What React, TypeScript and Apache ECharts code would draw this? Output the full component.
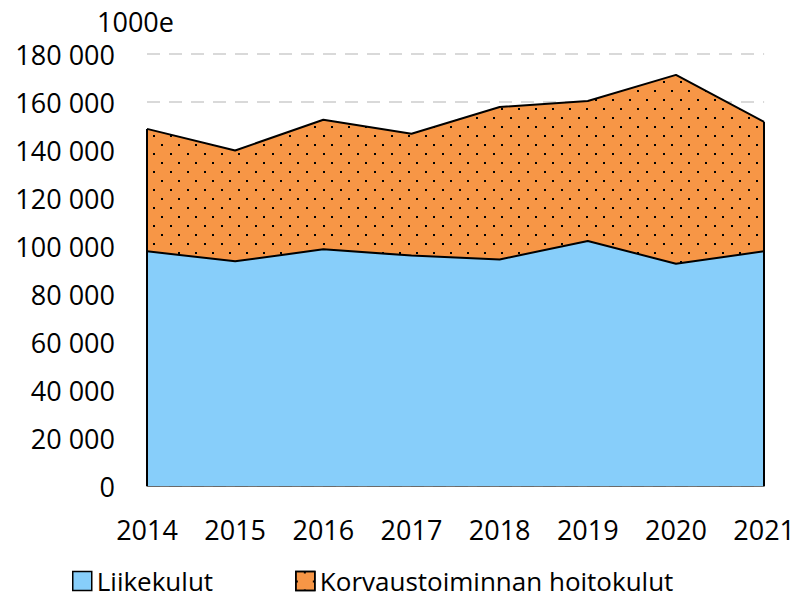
import React, { useEffect, useRef } from "react";
import * as echarts from "echarts";

const years = ["2014", "2015", "2016", "2017", "2018", "2019", "2020", "2021"];
const liikekulut = [97800, 93600, 98600, 96000, 94400, 102100, 92600, 97800];
const hoitokulut = [51000, 46200, 54000, 50800, 63500, 58300, 78700, 53900];
const totals = liikekulut.map((v, i) => v + hoitokulut[i]);
const yTicks = { min: 0, max: 180000, interval: 20000 };

const FONT = "'Open Sans', 'Noto Sans', sans-serif";
const BLUE = "#87CEFA";
const ORANGE = "#F79646";

const fmt = (v: number) => String(v).replace(/\B(?=(\d{3})+(?!\d))/g, " ");

export default function App() {
  const ref = useRef<HTMLDivElement>(null);
  useEffect(() => {
    if (!ref.current) return;
    const chart = echarts.init(ref.current, null, { renderer: "svg" });
    const last = years.length - 1;
    chart.setOption({
      animation: false,
      textStyle: { fontFamily: FONT },
      title: {
        text: "1000e",
        left: 97,
        top: 8,
        padding: 0,
        textStyle: { fontSize: 27, fontWeight: "normal", color: "#000", fontFamily: FONT },
      },
      grid: { left: 147, right: 32, top: 54, bottom: 115, containLabel: false },
      legend: {
        left: 72,
        top: 567,
        padding: 0,
        itemWidth: 19,
        itemHeight: 19,
        itemGap: 82,
        icon: "rect",
        textStyle: { fontSize: 26, color: "#000", fontFamily: FONT, lineHeight: 28 },
        data: [
          { name: "Liikekulut", itemStyle: { color: BLUE, borderColor: "#000", borderWidth: 1.5 } },
          {
            name: "Korvaustoiminnan hoitokulut",
            itemStyle: { color: ORANGE, borderColor: "#000", borderWidth: 1.5 },
          },
        ],
      },
      xAxis: {
        type: "category",
        data: years,
        boundaryGap: false,
        axisLine: { show: true, lineStyle: { color: "#444", width: 1.5 } },
        axisTick: { show: false },
        axisLabel: { fontSize: 27, color: "#000", margin: 30, fontFamily: FONT },
        splitLine: { show: false },
      },
      yAxis: {
        type: "value",
        min: yTicks.min,
        max: yTicks.max,
        interval: yTicks.interval,
        axisLine: { show: false },
        axisTick: { show: false },
        axisLabel: { fontSize: 27, color: "#000", margin: 32, fontFamily: FONT, formatter: fmt },
        splitLine: { show: true, lineStyle: { color: "#d9d9d9", width: 2, type: [13, 9] } },
      },
      series: [
        {
          name: "Liikekulut",
          type: "line",
          stack: "total",
          data: liikekulut,
          showSymbol: false,
          symbol: "none",
          lineStyle: { color: "#000", width: 2 },
          itemStyle: { color: BLUE },
          areaStyle: { color: BLUE, opacity: 1 },
          z: 3,
        },
        {
          name: "Korvaustoiminnan hoitokulut",
          type: "line",
          stack: "total",
          data: hoitokulut,
          showSymbol: false,
          symbol: "none",
          lineStyle: { color: "#000", width: 2 },
          itemStyle: {
            color: ORANGE,
            decal: {
              symbol: "rect",
              symbolSize: 1,
              color: "#000",
              dashArrayX: [
                [1.6, 14.4],
                [0, 8, 1.6, 6.4],
              ],
              dashArrayY: [1.6, 6.4],
              rotation: 0,
            },
          },
          areaStyle: { color: ORANGE, opacity: 1 },
          z: 2,
          markLine: {
            silent: true,
            symbol: "none",
            label: { show: false },
            lineStyle: { color: "#000", width: 2, type: "solid" },
            data: [
              [{ coord: [0, 0] }, { coord: [0, totals[0]] }],
              [{ coord: [last, 0] }, { coord: [last, totals[last]] }],
            ],
          },
        },
      ],
    });
    return () => chart.dispose();
  }, []);
  return <div ref={ref} style={{ width: 798, height: 601, position: "absolute", left: 0, top: 0 }} />;
}
